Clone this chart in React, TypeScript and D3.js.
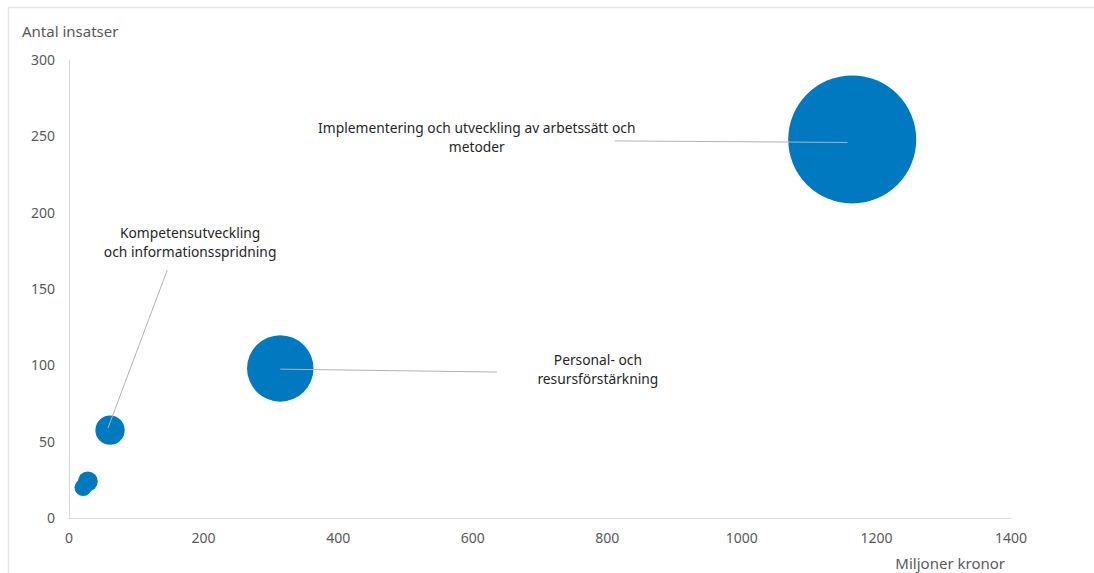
import React from "react";
import * as d3 from "d3";

const labels = [
  "Implementering och utveckling av arbetssätt och metoder",
  "Personal- och resursförstärkning",
  "Kompetensutveckling och informationsspridning",
  "Övrigt A",
  "Övrigt B",
];
const millions = [1164, 314, 61, 28, 21];
const counts = [248, 98, 57.5, 24, 20];
const sizes = [1164, 314, 61, 28, 21];

// label annotations (data units)
const labelLines = [
  ["Implementering och utveckling av arbetssätt och", "metoder"],
  ["Personal- och", "resursförstärkning"],
  ["Kompetensutveckling", "och informationsspridning"],
  [],
  [],
];
const labelX = [606, 786, 180, 0, 0];
const labelY = [249, 97, 180, 0, 0];
const leaderStartX = [1157, 314, 58, 0, 0];
const leaderStartY = [246, 97.5, 59, 0, 0];
const leaderEndX = [811, 636, 146, 0, 0];
const leaderEndY = [247, 95.6, 162.4, 0, 0];

const xTicks = [0, 200, 400, 600, 800, 1000, 1200, 1400];
const yTicks = [0, 50, 100, 150, 200, 250, 300];

const W = 1094;
const H = 573;
const left = 69;
const right = 1011;
const top = 60;
const bottom = 518;
const FONT = "'Noto Sans', 'Open Sans', sans-serif";

export default function App() {
  const x = d3.scaleLinear().domain([0, 1400]).range([left, right]);
  const y = d3.scaleLinear().domain([0, 300]).range([bottom, top]);
  const r = d3.scaleSqrt().domain([0, 1164]).range([0, 64]);

  const order = d3.range(labels.length);

  return (
    <svg
      width={W}
      height={H}
      style={{ position: "absolute", left: 0, top: 0, fontFamily: FONT }}
    >
      <rect x={0} y={0} width={W} height={H} fill="#fff" />
      <line x1={8} x2={W} y1={7.5} y2={7.5} stroke="#e6e6e6" strokeWidth={1.5} />
      <line x1={8.5} x2={8.5} y1={7} y2={H} stroke="#e6e6e6" strokeWidth={1.5} />

      {/* axes */}
      <line x1={left} x2={right} y1={bottom + 0.5} y2={bottom + 0.5} stroke="#d9d9d9" />
      <line x1={left + 0.5} x2={left + 0.5} y1={top} y2={bottom} stroke="#d9d9d9" />

      {yTicks.map((t) => (
        <text
          key={"y" + t}
          x={55}
          y={y(t)}
          dy="0.35em"
          textAnchor="end"
          fontSize={14}
          fill="#595959"
        >
          {t}
        </text>
      ))}
      {xTicks.map((t) => (
        <text
          key={"x" + t}
          x={x(t)}
          y={538}
          dy="0.35em"
          textAnchor="middle"
          fontSize={14}
          fill="#595959"
        >
          {t}
        </text>
      ))}

      <text x={22} y={37} fontSize={15} fill="#595959">
        Antal insatser
      </text>
      <text x={1005} y={569} textAnchor="end" fontSize={15} fill="#595959">
        Miljoner kronor
      </text>

      {/* bubbles */}
      {order.map((i) => (
        <circle
          key={"b" + i}
          cx={x(millions[i])}
          cy={y(counts[i])}
          r={r(sizes[i])}
          fill="#0079C1"
        >
          <title>{labels[i]}</title>
        </circle>
      ))}

      {/* leader lines */}
      {order
        .filter((i) => labelLines[i].length > 0)
        .map((i) => (
          <line
            key={"l" + i}
            x1={x(leaderStartX[i])}
            y1={y(leaderStartY[i])}
            x2={x(leaderEndX[i])}
            y2={y(leaderEndY[i])}
            stroke="#b3b3b3"
            strokeWidth={1}
          />
        ))}

      {/* data labels */}
      {order
        .filter((i) => labelLines[i].length > 0)
        .map((i) => (
          <text
            key={"t" + i}
            x={x(labelX[i])}
            y={y(labelY[i])}
            textAnchor="middle"
            fontSize={13.8}
            fill="#262626"
          >
            {labelLines[i].map((ln, k) => (
              <tspan
                key={k}
                x={x(labelX[i])}
                dy={k === 0 ? -5 : 19}
              >
                {ln}
              </tspan>
            ))}
          </text>
        ))}
    </svg>
  );
}
